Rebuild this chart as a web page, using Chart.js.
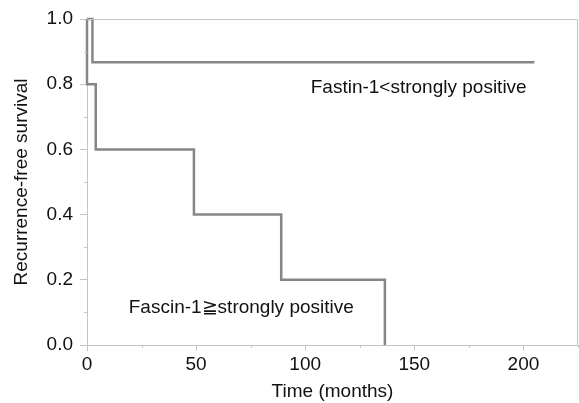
<!DOCTYPE html>
<html>
<head>
<meta charset="utf-8">
<script src="https://cdn.jsdelivr.net/npm/chart.js@4/dist/chart.umd.min.js"></script>
<style>
  html, body { margin: 0; padding: 0; background: #fff; }
  #wrap { width: 579px; height: 403px; }
</style>
</head>
<body>
<div id="wrap"><canvas id="myChart" width="579" height="403"></canvas></div>
<script>
// Kaplan-Meier curves (time in months, survival proportion)
let lowTimes = [0, 2.5, 205];
let lowSurvival = [1, 0.867, 0.867];
let highTimes = [0, 0, 4, 49, 89, 136.5];
let highSurvival = [1, 0.8, 0.6, 0.4, 0.2, 0];

let xTicks = [0, 50, 100, 150, 200];
let xMinor = [25, 75, 125, 175, 225];
let yTicks = [0, 0.2, 0.4, 0.6, 0.8, 1.0];
let yMinor = [0.1, 0.3, 0.5, 0.7, 0.9];

let labelLow = "Fastin-1<strongly positive";
let labelHigh = "Fascin-1\u2267strongly positive";

let lineColor = "#868686";
let axisColor = "#c4c4c4";
let font = "Liberation Sans, Arial, Helvetica, sans-serif";

function toPoints(xs, ys) {
  return xs.map((x, i) => ({ x: x, y: ys[i] }));
}

// frame, minor ticks and curve labels
let extras = {
  id: "extras",
  afterDraw(chart) {
    let ctx = chart.ctx;
    let a = chart.chartArea;
    let xs = chart.scales.x;
    let ys = chart.scales.y;
    ctx.save();
    ctx.strokeStyle = axisColor;
    ctx.lineWidth = 1;
    ctx.beginPath();
    ctx.moveTo(a.left, a.top + 0.5);
    ctx.lineTo(a.right - 0.5, a.top + 0.5);
    ctx.lineTo(a.right - 0.5, a.bottom);
    ctx.stroke();
    ctx.beginPath();
    xMinor.forEach(v => {
      let p = Math.round(xs.getPixelForValue(v)) + 0.5;
      ctx.moveTo(p, a.bottom);
      ctx.lineTo(p, a.bottom + 3);
    });
    yMinor.forEach(v => {
      let p = Math.round(ys.getPixelForValue(v)) + 0.5;
      ctx.moveTo(a.left, p);
      ctx.lineTo(a.left - 3, p);
    });
    ctx.stroke();

    ctx.fillStyle = "#111";
    ctx.font = "19px " + font;
    ctx.textAlign = "center";
    ctx.textBaseline = "middle";
    ctx.fillText(labelLow, xs.getPixelForValue(152), ys.getPixelForValue(0.788));
    ctx.fillText(labelHigh, xs.getPixelForValue(70.7), ys.getPixelForValue(0.113));
    ctx.restore();
  }
};

function drawChart() {
  let myChart = document.getElementById("myChart").getContext("2d");
  Chart.defaults.font.family = font;
  Chart.defaults.font.size = 19;
  Chart.defaults.color = "#111";

  let chart = new Chart(myChart, {
    type: "line",
    data: {
      datasets: [
        {
          label: labelLow,
          data: toPoints(lowTimes, lowSurvival),
          borderColor: lineColor,
          borderWidth: 2.5,
          stepped: "before",
          pointRadius: 0,
          fill: false,
          clip: 4,
        },
        {
          label: labelHigh,
          data: toPoints(highTimes, highSurvival),
          borderColor: lineColor,
          borderWidth: 2.5,
          stepped: "before",
          pointRadius: 0,
          fill: false,
          clip: 4,
        },
      ],
    },
    options: {
      responsive: false,
      animation: false,
      layout: { padding: { top: 19, right: 1, left: 0, bottom: 0 } },
      plugins: {
        legend: { display: false },
        tooltip: { enabled: false },
      },
      scales: {
        x: {
          type: "linear",
          min: 0,
          max: 225,
          afterBuildTicks: s => { s.ticks = xTicks.map(v => ({ value: v })); },
          afterFit: s => { s.height = 58; },
          grid: { drawOnChartArea: false, color: axisColor, tickLength: 6 },
          border: { color: axisColor },
          ticks: { padding: 2, maxRotation: 0 },
          title: { display: true, text: "Time (months)", padding: { top: 0, bottom: 0 } },
        },
        y: {
          min: 0,
          max: 1,
          afterBuildTicks: s => { s.ticks = yTicks.map(v => ({ value: v })); },
          afterFit: s => { s.width = 87; },
          grid: { drawOnChartArea: false, color: axisColor, tickLength: 7 },
          border: { color: axisColor },
          ticks: { padding: 7, callback: v => v.toFixed(1) },
          title: { display: true, text: "Recurrence-free survival", padding: { top: 10, bottom: 0 } },
        },
      },
    },
    plugins: [extras],
  });
}
drawChart();
</script>
</body>
</html>
